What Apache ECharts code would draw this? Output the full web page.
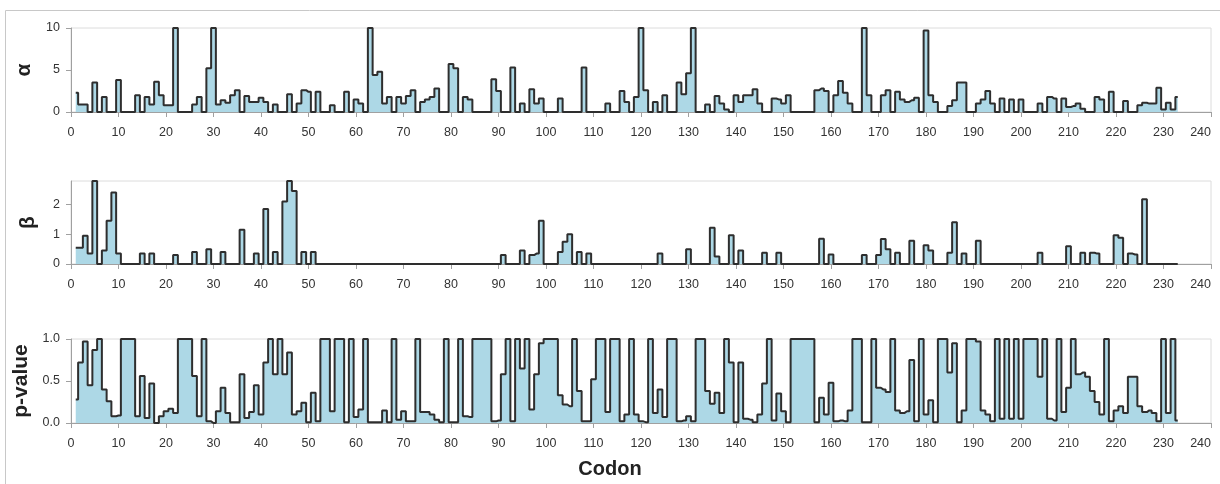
<!DOCTYPE html>
<html>
<head>
<meta charset="utf-8">
<script src="https://cdn.jsdelivr.net/npm/echarts@6/dist/echarts.min.js"></script>
<style>
html,body{margin:0;padding:0;background:#fff;}
#chart{width:1220px;height:484px;}
</style>
</head>
<body>
<div id="chart"></div>
<script>
// ---- data (codons 1..233) ----
const CODON_COUNT = 233;
const codons = [];
for (let i = 1; i <= CODON_COUNT; i++) codons.push(i);

const xTicksMax = 240;

const alpha = [
  2.3, 0.9, 0.9, 0, 3.5, 0, 1.8, 0, 0, 3.8,
  0, 0, 0, 2.0, 0, 1.8, 0.9, 3.6, 2.0, 0.8,
  0.8, 10, 0, 0, 0, 0.9, 1.8, 0, 5.2, 10,
  0.9, 1.4, 1.1, 2.0, 2.6, 0, 1.9, 1.2, 1.2, 1.7,
  1.2, 0, 0.9, 0, 0, 2.1, 0, 1.0, 2.6, 2.4,
  0, 2.4, 0, 0, 0.8, 0, 0, 2.4, 0, 1.5,
  1.0, 0, 10, 4.4, 4.8, 1.0, 1.8, 0, 1.8, 1.0,
  1.9, 2.6, 0, 1.2, 1.5, 1.8, 2.8, 0, 0, 5.7,
  5.2, 0, 1.8, 1.5, 0, 0, 0, 0, 3.9, 2.5,
  0, 0, 5.3, 0, 1.0, 0, 2.7, 1.0, 1.6, 0,
  0, 0, 1.6, 0, 0, 0, 0, 5.3, 0, 0,
  0, 0, 1.0, 0, 0, 2.5, 1.2, 0, 1.8, 10,
  2.6, 0, 1.2, 0, 2.0, 0, 0, 3.5, 2.1, 4.6,
  10, 0, 0, 0.9, 0, 1.9, 1.0, 0.3, 0, 2.0,
  1.2, 2.0, 2.0, 2.7, 1.0, 0, 0, 1.6, 1.5, 1.0,
  2.0, 0, 0, 0, 0, 0, 2.6, 2.8, 2.5, 0,
  2.0, 3.7, 2.3, 1.0, 0, 0, 10, 2.0, 0, 0,
  2.0, 2.6, 0, 2.4, 1.5, 1.2, 1.4, 1.7, 0, 9.7,
  2.0, 1.2, 0, 0, 0.7, 1.4, 3.5, 3.5, 0, 0,
  1.0, 1.5, 2.5, 1.0, 0, 1.6, 0, 1.5, 0, 1.5,
  0, 0, 0, 1.0, 0, 1.8, 1.6, 0, 1.6, 0.6,
  0.7, 1.0, 0.4, 0, 0, 1.8, 1.5, 0, 2.4, 0,
  0, 1.3, 0, 0, 0.8, 1.1, 1.0, 1.0, 2.9, 0.3,
  1.1, 0.3, 1.8
];

const beta = [
  0.55, 0.55, 0.95, 0.35, 2.79, 0, 0.45, 1.45, 2.4, 0.35,
  0, 0, 0, 0, 0.35, 0, 0.35, 0, 0, 0,
  0, 0.3, 0, 0, 0, 0.4, 0, 0, 0.5, 0,
  0, 0.4, 0, 0, 0, 1.15, 0, 0, 0.35, 0,
  1.85, 0, 0.4, 0, 2.1, 2.79, 2.45, 0, 0.4, 0,
  0.4, 0, 0, 0, 0, 0, 0, 0, 0, 0,
  0, 0, 0, 0, 0, 0, 0, 0, 0, 0,
  0, 0, 0, 0, 0, 0, 0, 0, 0, 0,
  0, 0, 0, 0, 0, 0, 0, 0, 0, 0,
  0.3, 0, 0, 0, 0.45, 0, 0.3, 0.35, 1.45, 0,
  0, 0, 0.4, 0.75, 1.0, 0, 0.4, 0, 0.35, 0,
  0, 0, 0, 0, 0, 0, 0, 0, 0, 0,
  0, 0, 0, 0.35, 0, 0, 0, 0, 0, 0.5,
  0, 0, 0, 0, 1.22, 0.25, 0, 0, 0.97, 0,
  0.45, 0, 0, 0, 0, 0.38, 0, 0, 0.38, 0,
  0, 0, 0, 0, 0, 0, 0, 0.85, 0, 0.32,
  0, 0, 0, 0, 0, 0, 0.3, 0, 0, 0.3,
  0.84, 0.5, 0, 0.38, 0, 0, 0.78, 0, 0, 0.63,
  0.45, 0, 0, 0, 0.38, 1.4, 0, 0.35, 0, 0,
  0.78, 0, 0, 0, 0, 0, 0, 0, 0, 0,
  0, 0, 0, 0.38, 0, 0, 0, 0, 0, 0.6,
  0, 0, 0.38, 0, 0.38, 0.35, 0, 0, 0, 0.97,
  0.88, 0, 0.35, 0.32, 0, 2.18, 0, 0, 0, 0,
  0, 0, 0
];

const pValue = [
  0.28, 0.72, 0.97, 0.45, 0.87, 1.0, 0.4, 0.26, 0.08, 0.09,
  1.0, 1.0, 1.0, 0.08, 0.56, 0.06, 0.47, 0.0, 0.08, 0.14,
  0.17, 0.12, 1.0, 1.0, 1.0, 0.56, 0.08, 1.0, 0.02, 0.0,
  0.14, 0.42, 0.12, 0.01, 0.01, 0.58, 0.06, 0.13, 0.45, 0.1,
  0.72, 1.0, 0.58, 1.0, 0.58, 0.84, 0.1, 0.14, 0.24, 0.01,
  0.36, 0.02, 1.0, 1.0, 0.14, 1.0, 1.0, 0.01, 1.0, 0.07,
  0.16, 1.0, 0.01, 0.01, 0.01, 0.15, 0.01, 1.0, 0.04, 0.14,
  0.02, 0.02, 1.0, 0.13, 0.13, 0.1, 0.04, 0.01, 1.0, 0.01,
  0.01, 1.0, 0.08, 0.07, 1.0, 1.0, 1.0, 1.0, 0.02, 0.03,
  0.58, 1.0, 0.02, 1.0, 0.65, 1.0, 0.16, 0.58, 0.95, 1.0,
  1.0, 1.0, 0.33, 0.22, 0.2, 1.0, 0.38, 0.02, 0.02, 0.52,
  1.0, 1.0, 0.13, 1.0, 1.0, 0.02, 0.1, 1.0, 0.1, 0.02,
  0.01, 1.0, 0.12, 0.4, 0.07, 1.0, 1.0, 0.02, 0.03, 0.08,
  0.02, 1.0, 1.0, 0.38, 0.23, 0.36, 0.12, 1.0, 0.72, 0.01,
  0.72, 0.05, 0.04, 0.01, 0.1, 0.47, 1.0, 0.03, 0.35, 0.14,
  0.01, 1.0, 1.0, 1.0, 1.0, 1.0, 0.01, 0.3, 0.1, 0.48,
  0.02, 0.03, 0.02, 0.15, 1.0, 1.0, 0.01, 0.01, 1.0, 0.42,
  0.4, 0.37, 1.0, 0.15, 0.12, 0.14, 0.75, 0.02, 1.0, 0.1,
  0.27, 0.01, 1.0, 1.0, 0.6, 0.95, 0.01, 0.15, 1.0, 1.0,
  0.97, 0.15, 0.1, 0.02, 1.0, 0.05, 1.0, 0.05, 1.0, 0.05,
  1.0, 1.0, 1.0, 0.55, 1.0, 0.05, 0.03, 1.0, 0.13, 0.42,
  1.0, 0.58, 0.6, 0.55, 0.38, 0.25, 0.1, 1.0, 0.02, 0.15,
  0.2, 0.12, 0.55, 0.55, 0.2, 0.13, 0.15, 0.12, 0.02, 1.0,
  0.12, 1.0, 0.03
];

const panelNames = ['α', 'β', 'p-value'];
const panelMax = [10, 2.79, 1];
const panelInterval = [5, 1, 0.5];
const xTitle = 'Codon';

// ---- chart ----
const FONT = '"Liberation Sans", Arial, sans-serif';
const grids = [
  { left: 71, right: 9, top: 28, height: 84 },
  { left: 71, right: 9, top: 181, height: 83 },
  { left: 71, right: 9, top: 339, height: 84 }
];

const seriesData = [alpha, beta, pValue];

const option = {
  animation: false,
  title: {
    text: xTitle, left: 'center', top: 454,
    textStyle: { fontFamily: FONT, fontSize: 20, fontWeight: 'bold', color: '#222' }
  },
  graphic: [{
    type: 'rect', silent: true,
    shape: { x: 5.5, y: 10.5, width: 1400, height: 700 },
    style: { fill: 'none', stroke: '#c8c8c8', lineWidth: 1 }
  }],
  grid: grids.map(g => Object.assign({ show: true, borderColor: '#dcdcdc', borderWidth: 1 }, g)),
  xAxis: grids.map((g, i) => ({
    type: 'value', gridIndex: i, min: 0, max: xTicksMax, interval: 10,
    axisLine: { show: true, onZero: false, lineStyle: { color: '#a0a0a0', width: 1 } },
    axisTick: { show: true, length: 5, lineStyle: { color: '#a0a0a0' } },
    axisLabel: { color: '#333', fontFamily: FONT, fontSize: 12.5, margin: 14, alignMaxLabel: 'right' },
    splitLine: { show: false }
  })),
  yAxis: grids.map((g, i) => ({
    type: 'value', gridIndex: i, min: 0, max: panelMax[i], interval: panelInterval[i],
    name: panelNames[i], nameLocation: 'middle', nameRotate: 90, nameGap: 32,
    nameTextStyle: { fontFamily: FONT, fontSize: 21, fontWeight: 'bold', color: '#222' },
    axisLine: { show: true, lineStyle: { color: '#a0a0a0', width: 1 } },
    axisTick: { show: true, length: 5, lineStyle: { color: '#a0a0a0' } },
    axisLabel: {
      color: '#333', fontFamily: FONT, fontSize: 12.5, margin: 11,
      showMaxLabel: i !== 1,
      formatter: i === 2 ? (v => v.toFixed(1)) : (v => String(v))
    },
    splitLine: { show: false }
  })),
  series: seriesData.map((vals, i) => ({
    type: 'line', xAxisIndex: i, yAxisIndex: i, step: 'middle',
    symbol: 'none', showSymbol: false,
    data: codons.map((c, k) => [c, vals[k]]),
    lineStyle: { color: '#2e2e2e', width: 2 },
    areaStyle: { color: '#add8e6', opacity: 1 }
  }))
};

const chart = echarts.init(document.getElementById('chart'), null, { renderer: 'canvas' });
chart.setOption(option);
</script>
</body>
</html>
